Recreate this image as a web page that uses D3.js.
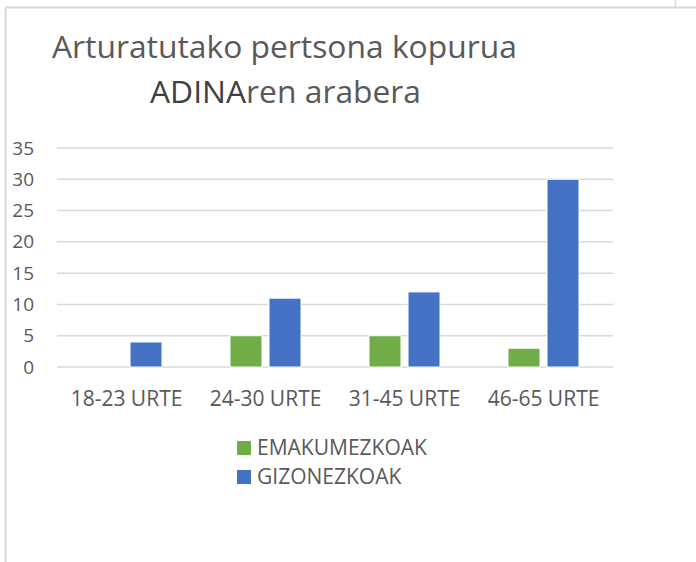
<!DOCTYPE html>
<html>
<head>
<meta charset="utf-8">
<script src="https://cdn.jsdelivr.net/npm/d3@7"></script>
<style>
  body { margin: 0; background: #fff; }
  text { font-family: "Open Sans", "Noto Sans", sans-serif; fill: #595959; }
</style>
</head>
<body>
<div id="svg"></div>
<script>
// data
var categories = ["18-23 URTE", "24-30 URTE", "31-45 URTE", "46-65 URTE"];
var seriesNames = ["EMAKUMEZKOAK", "GIZONEZKOAK"];
var emakumezkoak = [0, 5, 5, 3];
var gizonezkoak = [4, 11, 12, 30];
var yTicks = [0, 5, 10, 15, 20, 25, 30, 35];
var colors = ["#70AD47", "#4472C4"];

var W = 696, H = 562;
var svg = d3.select("#svg").append("svg")
    .attr("width", W)
    .attr("height", H);

// frame lines
svg.append("line").attr("x1", 5.5).attr("x2", W).attr("y1", 7.5).attr("y2", 7.5)
    .style("stroke", "#d9d9d9").style("stroke-width", 2);
svg.append("line").attr("x1", 5.5).attr("x2", 5.5).attr("y1", 7.5).attr("y2", H)
    .style("stroke", "#d9d9d9").style("stroke-width", 2);
svg.append("line").attr("x1", 675.5).attr("x2", 675.5).attr("y1", 0).attr("y2", 7)
    .style("stroke", "#d9d9d9").style("stroke-width", 1.5);

// title
svg.append("text")
    .attr("x", 52).attr("y", 58)
    .style("font-size", "31.8px")
    .text("Arturatutako pertsona kopurua");
var t2 = svg.append("text")
    .attr("x", 150).attr("y", 103)
    .style("font-size", "31.8px");
t2.append("tspan").style("fill", "#404040").text("ADINA");
t2.append("tspan").text("ren arabera");

var plotLeft = 57, plotRight = 613, plotTop = 148, plotBottom = 367;

var x = d3.scaleBand()
    .domain(categories)
    .range([plotLeft, plotRight]);

var y = d3.scaleLinear()
    .domain([0, 35])
    .range([plotBottom, plotTop]);

// gridlines
svg.append("g")
    .selectAll("line")
    .data(yTicks)
    .enter()
    .append("line")
    .attr("x1", plotLeft).attr("x2", plotRight)
    .attr("y1", function(d) { return y(d); })
    .attr("y2", function(d) { return y(d); })
    .style("stroke", "#d9d9d9")
    .style("stroke-width", 1.5);

// y axis labels
var yAxis = svg.append("g")
    .attr("transform", "translate(34,0)")
    .call(d3.axisLeft(y).tickValues(yTicks).tickSize(0).tickPadding(0));
yAxis.select(".domain").remove();
yAxis.selectAll("text")
    .style("font-size", "19px")
    .style("fill", "#595959")
    .style("font-family", "'Open Sans', sans-serif");

// x axis labels
var xAxis = svg.append("g")
    .attr("transform", "translate(0," + plotBottom + ")")
    .call(d3.axisBottom(x).tickSize(0).tickPadding(24));
xAxis.select(".domain").remove();
xAxis.selectAll("text")
    .style("font-size", "21px")
    .style("fill", "#595959")
    .style("font-family", "'Open Sans', sans-serif");

// bars
var barW = 32, gap = 7;
var series = [emakumezkoak, gizonezkoak];
series.forEach(function(vals, si) {
    svg.append("g")
        .selectAll("rect")
        .data(vals.map(function(v, i) { return {cat: categories[i], v: v}; }))
        .enter()
        .filter(function(d) { return d.v > 0; })
        .append("rect")
        .attr("x", function(d) {
            var c = x(d.cat) + x.bandwidth() / 2;
            return c - barW - gap / 2 + si * (barW + gap);
        })
        .attr("y", function(d) { return y(d.v); })
        .attr("width", barW)
        .attr("height", function(d) { return plotBottom - y(d.v); })
        .style("fill", colors[si])
        .style("stroke", "#fff")
        .style("stroke-width", 1);
});

// legend
var legend = svg.append("g")
    .selectAll("g")
    .data(seriesNames)
    .enter()
    .append("g")
    .attr("transform", function(d, i) { return "translate(237," + (441 + i * 29) + ")"; });
legend.append("rect")
    .attr("width", 14).attr("height", 14)
    .style("fill", function(d, i) { return colors[i]; });
legend.append("text")
    .attr("x", 20).attr("y", 14)
    .style("font-size", "21px")
    .text(function(d) { return d; });
</script>
</body>
</html>
